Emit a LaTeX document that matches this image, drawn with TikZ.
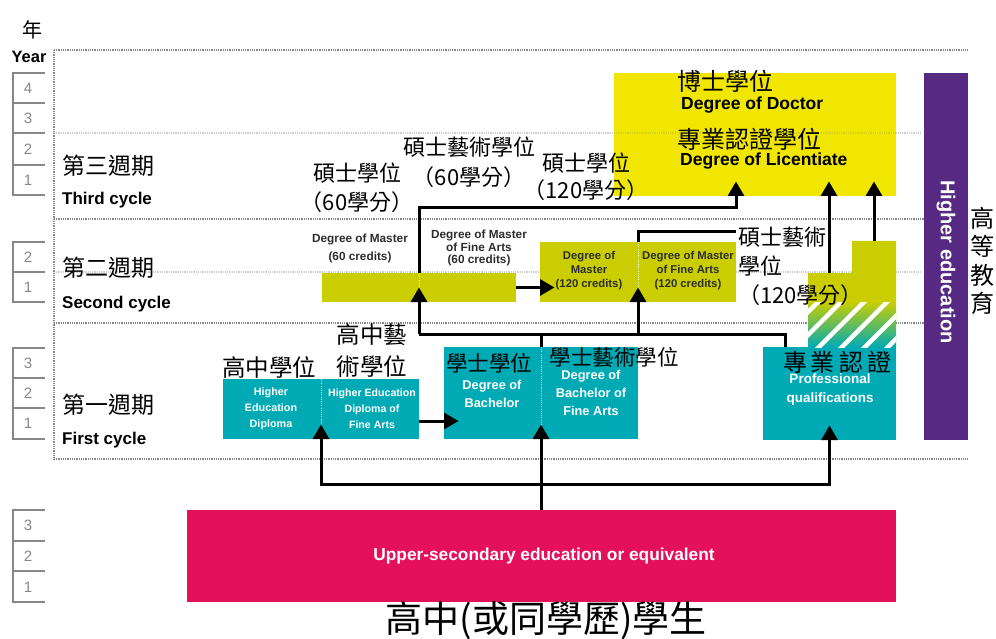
\documentclass[tikz,border=0pt]{standalone}
\usepackage{fontspec}
\setmainfont{Liberation Sans}
\newfontfamily\cjk{Noto Sans CJK TC}
\usetikzlibrary{arrows.meta,calc}
\definecolor{teal1}{RGB}{0,170,181}
\definecolor{olive1}{RGB}{202,206,0}
\definecolor{yel1}{RGB}{240,230,0}
\definecolor{purp1}{RGB}{86,42,131}
\definecolor{pink1}{RGB}{228,17,90}
\definecolor{grid1}{RGB}{135,135,135}
\definecolor{gridl}{RGB}{205,205,205}
\definecolor{txtd}{RGB}{45,45,45}
\newcommand{\fz}[2]{\fontsize{#1}{#2}\selectfont}
\begin{document}
\begin{tikzpicture}[x=1pt,y=-1pt,
  dk/.style={line width=1.4pt, color=grid1, dash pattern=on 0.9pt off 0.9pt},
  lt/.style={line width=1.2pt, color=gridl, dash pattern=on 0.9pt off 0.9pt},
  yr/.style={line width=1.1pt, color=grid1},
  num/.style={text=grid1, font=\fz{15}{15}, inner sep=0},
  blk/.style={draw=none, inner sep=0, outer sep=0},
  ln/.style={line width=3pt, black},
  arr/.style={ln, -{Triangle[width=16pt,length=14.5pt]}, shorten >=-14.5pt},
  divl/.style={white, line width=0.9pt, dash pattern=on 1pt off 1.2pt},
  lbl/.style={inner sep=0, align=center},
]
\useasboundingbox (0,0) rectangle (996,639);

% ---------- grid ----------
\draw[lt] (54,133) -- (920,133);
\draw[lt] (54,272) -- (920,272);
\draw[dk] (54,50) -- (968,50);
\draw[dk] (54,219) -- (968,219);
\draw[dk] (54,323) -- (968,323);
\draw[dk] (54,459) -- (968,459);
\draw[dk] (54,50) -- (54,459);

% ---------- year column ----------
\node[lbl, font=\cjk\fz{20}{20}] (nian) at (33,30) {年};
\node[lbl, font=\bfseries\fz{16.5}{16.5}] (year) at (29,57) {Year};
\draw[yr] (45,73) -- (13,73) -- (13,195) -- (45,195);
\foreach \yy in {103,133,165} \draw[yr] (13,\yy) -- (45,\yy);
\node[num] (n4a) at (28,88) {4};
\node[num] (n3a) at (28,118) {3};
\node[num] (n2a) at (28,149) {2};
\node[num] (n1a) at (28,180) {1};
\draw[yr] (45,242) -- (13,242) -- (13,302) -- (45,302);
\draw[yr] (13,272) -- (45,272);
\node[num] (n2b) at (28,257) {2};
\node[num] (n1b) at (28,287) {1};
\draw[yr] (45,348) -- (13,348) -- (13,439) -- (45,439);
\foreach \yy in {378,408} \draw[yr] (13,\yy) -- (45,\yy);
\node[num] (n3c) at (28,363) {3};
\node[num] (n2c) at (28,393) {2};
\node[num] (n1c) at (28,423) {1};
\draw[yr] (45,510) -- (13,510) -- (13,602) -- (45,602);
\foreach \yy in {541,571} \draw[yr] (13,\yy) -- (45,\yy);
\node[num] (n3d) at (28,525) {3};
\node[num] (n2d) at (28,556) {2};
\node[num] (n1d) at (28,587) {1};

% ---------- cycle labels ----------
\node[inner sep=0, anchor=west, font=\cjk\fz{23}{23}] (c3zh) at (62,166) {第三週期};
\node[inner sep=0, anchor=west, font=\bfseries\fz{17}{17}] (c3en) at (62,200) {Third cycle};
\node[inner sep=0, anchor=west, font=\cjk\fz{23}{23}] (c2zh) at (62,268) {第二週期};
\node[inner sep=0, anchor=west, font=\bfseries\fz{17}{17}] (c2en) at (62,304) {Second cycle};
\node[inner sep=0, anchor=west, font=\cjk\fz{23}{23}] (c1zh) at (62,405) {第一週期};
\node[inner sep=0, anchor=west, font=\bfseries\fz{17}{17}] (c1en) at (62,440) {First cycle};

% ---------- boxes ----------
\node[blk, fill=yel1, minimum width=282pt, minimum height=123pt] (doc) at (755,134.5) {};
\draw[lt, color=yel1!80!gray] (614,133) -- (896,133);
\node[blk, fill=purp1, minimum width=44pt, minimum height=367pt] (he) at (946,256.5) {};
\node[blk, fill=pink1, minimum width=709pt, minimum height=92pt] (pink) at (541.5,556) {};
\node[blk, fill=olive1, minimum width=194pt, minimum height=29pt] (m60) at (419,287.5) {};
\node[blk, fill=olive1, minimum width=196pt, minimum height=60pt] (m120) at (638,272) {};
\node[blk, fill=teal1, minimum width=196pt, minimum height=60pt] (dip) at (321,409) {};
\node[blk, fill=teal1, minimum width=194pt, minimum height=92pt] (bach) at (541,393) {};
\node[blk, fill=teal1, minimum width=133pt, minimum height=93pt] (prof) at (829.5,393.5) {};
% stepped olive shape with hatched transition
\fill[olive1] (808,302) -- (808,273) -- (852,273) -- (852,241) -- (896,241) -- (896,302) -- cycle;
\shade[top color=olive1, bottom color=teal1] (808,301.5) rectangle (896,347.5);
\begin{scope}
  \clip (808,302) rectangle (896,347);
  \foreach \c in {1097,1120,1143,1166,1189,1212,1235}
    \draw[white, line width=4.5pt] (\c-370,370) -- (\c-280,280);
\end{scope}

% dividers
\draw[divl] (dip.north) -- (dip.south);
\draw[divl] (bach.north) -- (bach.south);
\draw[divl] (m60.north) -- (m60.south);
\draw[divl] (m120.north) -- (m120.south);

% ---------- connectors ----------
\coordinate (y484) at (0,484);
\coordinate (y334) at (0,334);
\coordinate (y208) at (0,208);
\coordinate (y232) at (0,232);
\coordinate (y421) at (0,421);
\coordinate (j1) at (bach.south |- y484);
\coordinate (pj) at ([xshift=-44.5pt]prof.north);
\coordinate (docA) at ([xshift=-19pt]doc.south);
\coordinate (olA) at (829,273);
\coordinate (olB) at (874,241);

\draw[arr] (bach.south |- pink.north) -- (bach.south);
\draw[arr] (j1) -| (dip.south);
\draw[arr] (j1) -| (prof.south);
\draw[arr] (dip.east |- y421) -- (bach.west |- y421);

\draw[ln] (m60.south |- y334) -- (pj |- y334) -- (pj);
\draw[ln] (bach.north) -- (bach.north |- y334);
\draw[arr] (m60.south |- y334) -- (m60.south);
\draw[arr] (m120.south |- y334) -- (m120.south);
\draw[arr] (m60.east) -- (m120.west |- m60.east);

\draw[arr] (m60.north) |- (docA |- y208) -- (docA);
\draw[ln] (m120.north) |- (docA |- y232);
\draw[arr] (olA) -- (olA |- doc.south);
\draw[arr] (olB) -- (olB |- doc.south);

% ---------- texts ----------
% doctor
\node[inner sep=0, anchor=west, font=\cjk\fz{24}{24}] (docz1) at (677,81) {博士學位};
\node[inner sep=0, anchor=west, font=\bfseries\fz{17.5}{17.5}] (doce1) at (681,105) {Degree of Doctor};
\node[inner sep=0, anchor=west, font=\cjk\fz{24}{24}] (docz2) at (677,139) {專業認證學位};
\node[inner sep=0, anchor=west, font=\bfseries\fz{17.5}{17.5}] (doce2) at (680,161) {Degree of Licentiate};
% higher education
\node[inner sep=0, rotate=-90, text=white, font=\bfseries\fz{20}{20}] (hetxt) at (946,262) {Higher education};
\node[lbl, font=\cjk\fz{24}{28.5}] (hezh) at (982,261) {高\\等\\教\\育};
% pink
\node[inner sep=0, text=white, font=\bfseries\fz{17.3}{17.3}] (pinktxt) at (544,556) {Upper-secondary education or equivalent};
\node[inner sep=0, font=\cjk\fz{37}{37}] (pinkzh) at (546,621) {高中(或同學歷)學生};
% master 60
\node[lbl, text=txtd, font=\bfseries\fz{11.8}{18}] (m60a) at (360,248) {Degree of Master\\(60 credits)};
\node[lbl, text=txtd, font=\bfseries\fz{11.8}{12.2}] (m60b) at (479,248) {Degree of Master\\of Fine Arts\\(60 credits)};
\node[lbl, font=\cjk\fz{22}{29}] (m60z) at (357,188) {碩士學位\\（60學分）};
\node[lbl, font=\cjk\fz{22}{30}] (m60fz) at (469,162) {碩士藝術學位\\（60學分）};
% master 120
\node[lbl, text=txtd, font=\bfseries\fz{11.3}{14}] (m120a) at (589,271) {Degree of\\Master\\(120 credits)};
\node[lbl, text=txtd, font=\bfseries\fz{11.3}{14}] (m120b) at (688,271) {Degree of Master\\of Fine Arts\\(120 credits)};
\node[lbl, font=\cjk\fz{22}{27}] (m120z) at (586,177) {碩士學位\\（120學分）};
\node[lbl, align=left, anchor=west, font=\cjk\fz{22}{29}] (m120fz) at (738,266) {碩士藝術\\學位\\（120學分）};
% first cycle
\node[lbl, text=white, font=\bfseries\fz{10.8}{16}] (dipa) at (271,409) {Higher\\Education\\Diploma};
\node[lbl, text=white, font=\bfseries\fz{10.6}{16}] (dipb) at (372,409) {Higher Education\\Diploma of\\Fine Arts};
\node[lbl, font=\cjk\fz{23.5}{23.5}] (dipz) at (269,367) {高中學位};
\node[lbl, font=\cjk\fz{23.5}{32}] (dipfz) at (372,351) {高中藝\\術學位};
\node[lbl, text=white, font=\bfseries\fz{12.8}{18}] (bacha) at (492,394) {Degree of\\Bachelor};
\node[lbl, text=white, font=\bfseries\fz{12.8}{18}] (bachb) at (591,393) {Degree of\\Bachelor of\\Fine Arts};
\node[lbl, font=\cjk\fz{21.5}{21.5}] (bachz) at (489,363) {學士學位};
\node[lbl, font=\cjk\fz{21.5}{21.5}] (bachfz) at (614,357) {學士藝術學位};
\node[lbl, text=white, font=\bfseries\fz{13.5}{19}] (profe) at (830,390) {Professional\\qualifications};
\node[lbl, font=\cjk\fz{24}{24}] (profz) at (837,362) {專\,業\,認\,證};
\end{tikzpicture}
\end{document}
